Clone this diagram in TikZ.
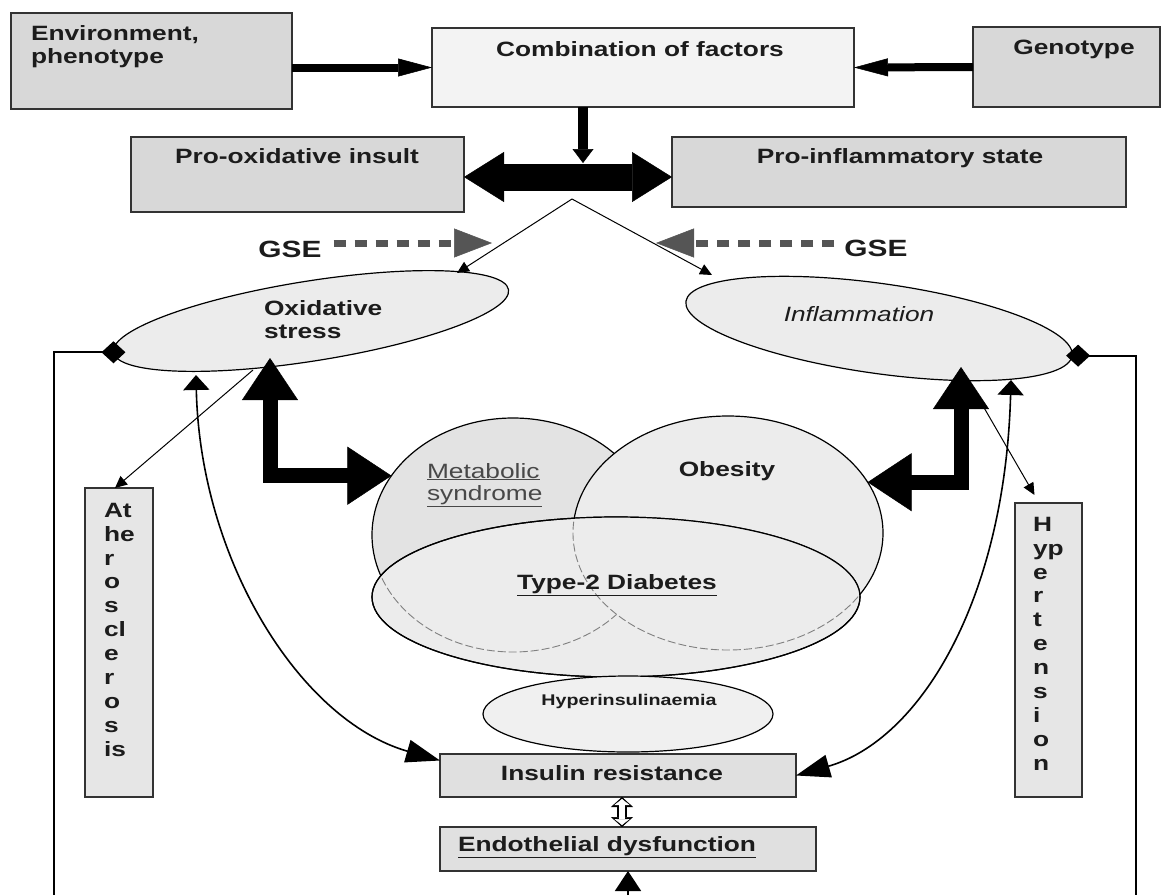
\documentclass[tikz,border=0pt]{standalone}
\usepackage{fontspec}
\setmainfont{Liberation Sans}[FakeStretch=1.27]
\usetikzlibrary{arrows.meta,shapes.geometric}
\definecolor{boxline}{HTML}{333333}
\definecolor{boxgrey}{HTML}{D8D8D8}
\definecolor{lightgrey}{HTML}{F3F3F3}
\definecolor{palegrey}{HTML}{E6E6E6}
\definecolor{midgrey}{HTML}{E0E0E0}
\definecolor{ovalgrey}{HTML}{ECECEC}
\definecolor{metgrey}{HTML}{E3E3E3}
\definecolor{hypgrey}{HTML}{F0F0F0}
\definecolor{gsegrey}{HTML}{555555}
\definecolor{textdark}{HTML}{1C1C1C}
\definecolor{textsoft}{HTML}{484848}

\begin{document}
\begin{tikzpicture}[x=1pt, y=-1pt,
  every node/.style={font=\fontsize{20.7}{23.9}\selectfont\bfseries, text=textdark, inner sep=0pt, outer sep=0pt},
  greybox/.style={draw=boxline, line width=1.4pt, fill=boxgrey},
  oval/.style={ellipse, draw=black, line width=1.2pt, fill=ovalgrey},
  hidden/.style={draw=gray, line width=0.9pt, dash pattern=on 8pt off 3pt},
  bararrow/.style={line width=8pt, -{Triangle[length=34pt,width=18pt,line width=0.5pt]}},
  downarrow/.style={line width=10pt, -{Triangle[length=14pt,width=21pt,line width=0.5pt]}},
  dblarrow/.style={line width=27pt, {Triangle[length=40pt,width=50pt,line width=0.5pt]}-{Triangle[length=40pt,width=50pt,line width=0.5pt]}},
  fatarrow/.style={line width=15pt, {Triangle[length=42pt,width=56pt,line width=0.5pt]}-{Triangle[length=44pt,width=58pt,line width=0.5pt]}},
  finearrow/.style={line width=1pt, -{Triangle[length=12pt,width=11pt]}},
  curvearrow/.style={line width=1.6pt, {Triangle[length=15pt,width=26pt]}-{Triangle[length=34pt,width=23pt]}},
  sideline/.style={line width=1.8pt},
  gsearrow/.style={draw=gsegrey, line width=7pt, dash pattern=on 12pt off 9pt, -{Triangle[length=38pt,width=29pt,line width=0.5pt]}},
  gse/.style={font=\fontsize{23.5}{26}\selectfont\bfseries}]

\useasboundingbox (0,0) rectangle (1162,895);

\node[greybox, minimum width=281pt, minimum height=96pt] (env) at (151.5,61) {};
\node[greybox, fill=lightgrey, minimum width=422pt, minimum height=79pt] (comb) at (643,67.5) {};
\node[greybox, minimum width=187pt, minimum height=80pt] (geno) at (1066.5,67) {};
\node[greybox, minimum width=333pt, minimum height=75pt] (prox) at (297.5,174.5) {};
\node[greybox, minimum width=454pt, minimum height=70pt] (prinf) at (899,172) {};
\node[greybox, fill=palegrey, minimum width=68pt, minimum height=309pt] (ath) at (119,642.5) {};
\node[greybox, fill=palegrey, minimum width=67pt, minimum height=294pt] (hyp) at (1048.5,650) {};
\node[greybox, fill=midgrey, minimum width=356pt, minimum height=43pt] (ir) at (618,775.5) {};
\node[greybox, fill=midgrey, minimum width=376pt, minimum height=44pt] (ed) at (628,849) {};

\node[oval, minimum width=400pt, minimum height=80pt, rotate=9] (oxs) at (311,321) {};
\node[oval, minimum width=390pt, minimum height=90pt, rotate=-8] (infl) at (879,328.5) {};
\node[oval, fill=metgrey, minimum width=282pt, minimum height=234pt] (met) at (513,535) {};
\node[oval, minimum width=310pt, minimum height=234pt] (obe) at (728,533) {};
\node[oval, minimum width=488pt, minimum height=160pt] (t2d) at (616,597) {};
\begin{scope}
  \clip (t2d.center) ellipse [x radius=244pt, y radius=80pt];
  \draw[hidden] (met.center) ellipse [x radius=141pt, y radius=117pt];
  \fill[ovalgrey] (obe.center) ellipse [x radius=155pt, y radius=117pt];
  \draw[hidden] (obe.center) ellipse [x radius=155pt, y radius=117pt];
\end{scope}
\draw[line width=1.2pt] (t2d.center) ellipse [x radius=244pt, y radius=80pt];
\node[oval, fill=hypgrey, minimum width=290pt, minimum height=76pt] (hins) at (628,714) {};

\coordinate (hub) at (583,177);
\coordinate (fork) at (572,199);
\coordinate (gseltip) at (492,243);
\coordinate (gsertip) at (656,243);
\coordinate (lbot) at (54,895);
\coordinate (rbot) at (1136,895);
\coordinate (edfeed) at (628,895);

\node[anchor=north west, align=left] (envtxt) at (31,25) {Environment,\\phenotype};
\node[anchor=base] (combtxt) at (640,56) {Combination of factors};
\node[anchor=base] (genotxt) at (1074,54) {Genotype};
\node[anchor=base] (proxtxt) at (297,163) {Pro-oxidative insult};
\node[anchor=base] (prinftxt) at (900,163) {Pro-inflammatory state};
\node[gse, anchor=base] (gsel) at (290,257) {GSE};
\node[gse, anchor=base] (gser) at (876,256) {GSE};
\node[anchor=north west, align=left] (oxstxt) at (264,300) {Oxidative\\stress};
\node[anchor=base, font=\fontsize{20.7}{23.9}\selectfont\itshape] (infltxt) at (859,321) {Inflammation};
\node[anchor=north west, align=left, font=\fontsize{20.7}{22.5}\selectfont, text=textsoft] (mettxt) at (427,463) {\underline{Metabolic}\\\underline{syndrome}};
\node[anchor=base] (obetxt) at (727,476) {Obesity};
\node[anchor=base] (t2dtxt) at (617,589) {\underline{Type-2 Diabetes}};
\node[anchor=base, font=\fontsize{15.5}{18}\selectfont\bfseries] (hinstxt) at (629,705) {Hyperinsulinaemia};
\node[anchor=base] (irtxt) at (612,780) {Insulin resistance};
\node[anchor=base west] (edtxt) at (458,851) {\underline{Endothelial dysfunction}};
\node[anchor=north west, align=left] (athtxt) at (104,503) {At\\he\\r\\o\\s\\cl\\e\\r\\o\\s\\is};
\node[anchor=north west, align=left] (hyptxt) at (1033,517) {H\\yp\\e\\r\\t\\e\\n\\s\\i\\o\\n};

\draw[bararrow] (env.east |- comb.west) -- (comb.west);
\draw[bararrow] (geno.west) -- (comb.east);
\draw[downarrow] (comb.south -| hub) -- ([yshift=14pt]hub);
\draw[dblarrow] (prox.east |- hub) -- (prinf.west |- hub);
\draw[finearrow] (fork) -- ([shift={(146,-48)}]oxs.center);
\draw[finearrow] (fork) -- ([shift={(-167,-53.5)}]infl.center);
\draw[gsearrow] ([xshift=12pt]gsel.east |- gseltip) -- (gseltip);
\draw[gsearrow] ([xshift=-10pt]gser.west |- gsertip) -- (gsertip);
\draw[sideline, {Diamond[length=24pt,width=22pt]}-] ([xshift=12pt]oxs.west) -| (lbot);
\draw[sideline, {Diamond[length=24pt,width=22pt]}-] ([xshift=-6pt]infl.east) -| (rbot);
\draw[fatarrow] ([shift={(-41,37)}]oxs.center) |- (met.154);
\draw[fatarrow] ([shift={(82,38.5)}]infl.center) |- (obe.20);
\draw[finearrow] ([shift={(-58,49)}]oxs.center) -- ([xshift=-4pt]ath.north);
\draw[finearrow] ([shift={(89,51.5)}]infl.center) -- ([shift={(-14pt,8pt)}]hyp.north);
\draw[curvearrow] ([shift={(-115,54)}]oxs.center) .. controls +(4,185) and +(-140,-40) .. ([yshift=15pt]ir.west);
\draw[curvearrow] ([shift={(132,51.5)}]infl.center) .. controls +(-6,220) and +(124,-35.5) .. (ir.east);
\draw[line width=10pt, {Triangle[length=10pt,width=22pt,line width=0.5pt]}-{Triangle[length=10pt,width=22pt,line width=0.5pt]}] ([xshift=4pt]ir.south) -- ([xshift=-6pt]ed.north);
\draw[white, line width=6pt, shorten <=2pt, shorten >=2pt, {Triangle[length=6pt,width=15pt,line width=0.5pt]}-{Triangle[length=6pt,width=15pt,line width=0.5pt]}] ([xshift=4pt]ir.south) -- ([xshift=-6pt]ed.north);
\draw[sideline, -{Triangle[length=20pt,width=26pt]}] (edfeed) -- (ed.south);
\end{tikzpicture}
\end{document}
